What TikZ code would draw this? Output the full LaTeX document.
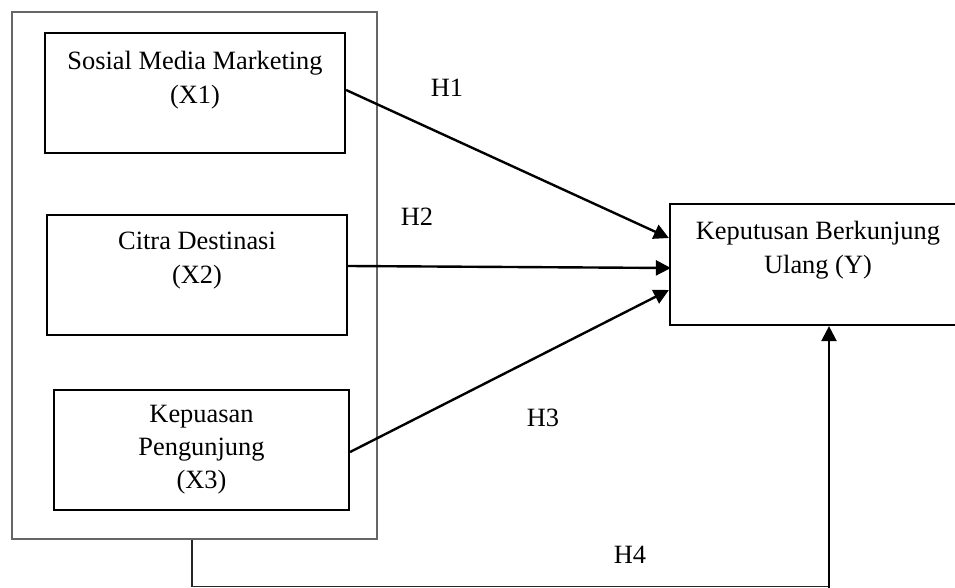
\documentclass[tikz,border=0pt]{standalone}
\usepackage{fontspec}
\setmainfont{Liberation Serif}
\usetikzlibrary{arrows.meta,calc}
\begin{document}
\begin{tikzpicture}[x=0.5pt,y=-0.5pt,
  box/.style={draw, line width=1.1pt, inner sep=0pt},
  frame/.style={draw=black!60, line width=0.6pt, inner sep=0pt, minimum width=182.5pt, minimum height=263.5pt},
  txt/.style={align=center, inner sep=0pt, font=\fontsize{13.2}{17}\selectfont},
  arr/.style={line width=1.2pt, -{Triangle[length=7.5pt,width=7.5pt]}},
  link/.style={line width=0.8pt, draw=black!85}]
\clip (0,0) rectangle (955,588);
\node[frame] (outer) at (194.5,275.5) {};
\node[box, minimum width=150pt, minimum height=60pt] (x1) at (195,93) {};
\node[box, minimum width=150pt, minimum height=60pt] (x2) at (197,275) {};
\node[box, minimum width=147.5pt, minimum height=60pt] (x3) at (201.5,450) {};
\node[box, minimum width=148pt, minimum height=60.5pt] (y) at (818,264.5) {};
\node[txt] (t1) at (195,80) {Sosial Media Marketing\\(X1)};
\node[txt] (t2) at (197,261) {Citra Destinasi\\(X2)};
\node[txt, font=\fontsize{13.2}{16.5}\selectfont] (t3) at (201.5,450) {Kepuasan\\Pengunjung\\(X3)};
\node[txt] (t4) at (818,250) {Keputusan Berkunjung\\Ulang (Y)};
\node[txt] (h1) at (447,88) {H1};
\node[txt] (h2) at (417,217) {H2};
\node[txt] (h3) at (543,418) {H3};
\node[txt] (h4) at (630,555) {H4};
\draw[arr] ($(x1.east)+(0,-3)$) -- ($(y.west)+(0,-26.5)$);
\draw[arr] ($(x2.east)+(0,-9)$) -- ($(y.west)+(2,3.5)$);
\draw[arr] ($(x3.east)+(0,2)$) -- ($(y.west)+(0,25.5)$);
\coordinate (b1) at (192,586.5);
\coordinate (b2) at (829,586.5);
\draw[link] (outer.south -| b1) -- (b1) -- (b2);
\draw[arr] (b2 |- 0,590) -- (b2 |- y.south);
\end{tikzpicture}
\end{document}
